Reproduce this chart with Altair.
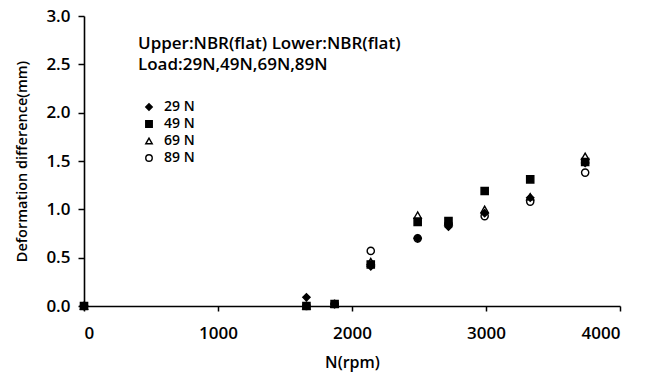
import altair as alt
import pandas as pd

rpm = [0, 1660, 1870, 2140, 2490, 2720, 2990, 3330, 3740]
v29 = [0.0, 0.09, 0.02, 0.41, 0.70, 0.82, 0.96, 1.12, 1.48]
v49 = [0.0, 0.0, 0.02, 0.43, 0.87, 0.88, 1.19, 1.31, 1.49]
v69 = [0.0, 0.0, 0.02, 0.46, 0.94, 0.87, 1.00, 1.13, 1.55]
v89 = [0.0, 0.0, 0.02, 0.57, 0.70, 0.85, 0.93, 1.08, 1.38]
legend_names = ["29 N", "49 N", "69 N", "89 N"]
x_ticks = [0, 1000, 2000, 3000, 4000]
y_ticks = [0.0, 0.5, 1.0, 1.5, 2.0, 2.5, 3.0]
note1 = "Upper:NBR(flat) Lower:NBR(flat)"
note2 = "Load:29N,49N,69N,89N"

rows = []
for name, vals in zip(legend_names, [v29, v49, v69, v89]):
    for n, v in zip(rpm, vals):
        rows.append({"N": n, "D": v, "Load": name})
df = pd.DataFrame(rows)

FONT = "Open Sans"

leg = alt.Legend(title=None, orient="none", legendX=58, legendY=84,
                 labelFontSize=14, labelFont=FONT, labelFontWeight=600,
                 labelColor="black", symbolSize=42, rowPadding=3,
                 labelOffset=8, symbolStrokeWidth=1.4)

points = alt.Chart(df).mark_point(
    size=52, strokeWidth=1.4, opacity=1, filled=True
).encode(
    x=alt.X("N:Q", scale=alt.Scale(domain=[0, 4000], nice=False),
            axis=alt.Axis(values=x_ticks, format="d", title="N(rpm)", grid=False,
                          tickSize=5, labelPadding=14, titlePadding=13,
                          titleFontSize=16)),
    y=alt.Y("D:Q", scale=alt.Scale(domain=[0, 3.0], nice=False),
            axis=alt.Axis(values=y_ticks, format=".1f",
                          title="Deformation difference(mm)", grid=False,
                          tickSize=6, labelPadding=8, titlePadding=16,
                          titleFontSize=14.5)),
    shape=alt.Shape("Load:N", scale=alt.Scale(domain=legend_names,
                    range=["diamond", "square", "triangle-up", "circle"]), legend=leg),
    fill=alt.Fill("Load:N", scale=alt.Scale(domain=legend_names,
                  range=["black", "black", "white", "white"]), legend=leg),
    stroke=alt.Stroke("Load:N", scale=alt.Scale(domain=legend_names,
                      range=["black", "black", "black", "black"]), legend=leg),
    order=alt.Order("Load:N", sort="descending"),
)

notes = pd.DataFrame({"t": [note1, note2], "row": [0, 1]})
text1 = alt.Chart(notes).transform_filter("datum.row == 0").mark_text(
    align="left", baseline="middle", fontSize=17, font=FONT, fontWeight=600
).encode(text="t:N", x=alt.value(54), y=alt.value(28))
text2 = alt.Chart(notes).transform_filter("datum.row == 1").mark_text(
    align="left", baseline="middle", fontSize=17, font=FONT, fontWeight=600
).encode(text="t:N", x=alt.value(54), y=alt.value(49))

chart = alt.layer(points, text1, text2).properties(
    width=536, height=290,
    autosize="none",
    background="white",
    padding={"left": 76, "top": 8, "right": 30, "bottom": 66},
).configure_view(stroke=None).configure_axis(
    domainColor="black", tickColor="black", domainWidth=1.6, tickWidth=1.5,
    labelFont=FONT, titleFont=FONT, labelFontSize=17,
    labelColor="black", titleColor="black", labelFontWeight=600, titleFontWeight=600,
)

chart.save("out.html", embed_options={"renderer": "svg", "actions": False})
